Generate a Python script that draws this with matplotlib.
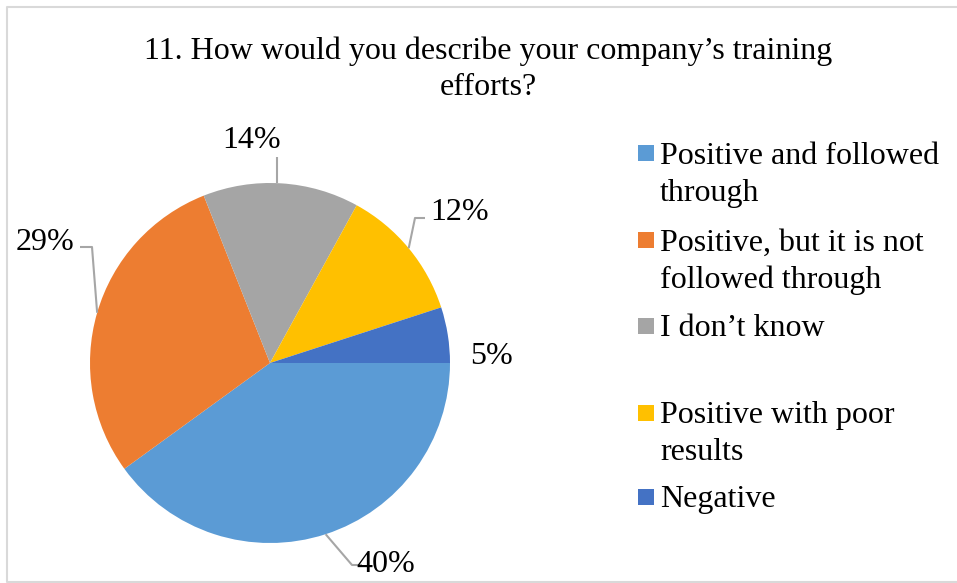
import matplotlib
matplotlib.use("Agg")
import matplotlib.pyplot as plt
from matplotlib.patches import Rectangle
from matplotlib.lines import Line2D
import numpy as np

# Survey data
title = "11. How would you describe your company\u2019s training\nefforts?"
categories = [
    "Positive and followed\nthrough",
    "Positive, but it is not\nfollowed through",
    "I don\u2019t know",
    "Positive with poor\nresults",
    "Negative",
]
shares = [40, 29, 14, 12, 5]
colors = ["#5B9BD5", "#ED7D31", "#A5A5A5", "#FFC000", "#4472C4"]

W, H = 957, 583
FS = 23
fig = plt.figure(figsize=(W / 100, H / 100), dpi=100)
plt.rcParams["font.family"] = ["Liberation Serif", "DejaVu Serif"]

# pixel helpers for the figure-level layout
def fx(px):
    return px / W

def fy(py):
    return 1 - py / H

# light outer frame (top, left and bottom edges; the right edge runs off the canvas)
frame_x = [fx(1100), fx(6.5), fx(6.5), fx(1100)]
frame_y = [fy(6.5), fy(6.5), fy(581.5), fy(581.5)]
fig.add_artist(Line2D(frame_x, frame_y, transform=fig.transFigure,
                      color="#D9D9D9", linewidth=1.5, zorder=0))

fig.text(fx(488), fy(69), title, ha="center", va="center", fontsize=FS,
         linespacing=1.3)

# pie axes: center at (270, 363) px, radius 180 px, spanning the full figure
cx, cy, R = 270, 363, 180
ax = fig.add_axes([0, 0, 1, 1])
wedges, _ = ax.pie(shares, colors=colors, startangle=0, counterclock=False,
                   radius=1.0, wedgeprops=dict(linewidth=0))
ax.set_xlim((0 - cx) / R, (W - cx) / R)
ax.set_ylim((cy - H) / R, cy / R)
ax.set_aspect("auto")
ax.axis("off")

def d(px, py):
    return ((px - cx) / R, (cy - py) / R)

# label text positions (px) and leader elbows (px)
label_pos = [(386, 565), (45, 243), (252, 140), (460, 213), (491, 356)]
leaders = [
    [(352, 565), (362, 565)],
    [(92, 247), (80, 247)],
    [(277, 157)],
    [(415, 218), (425, 218)],
    None,
]

for w, v, pos, ld in zip(wedges, shares, label_pos, leaders):
    mid = np.deg2rad((w.theta1 + w.theta2) / 2)
    ex, ey = np.cos(mid), np.sin(mid)
    if ld is not None:
        pts = [(ex, ey)] + [d(*p) for p in ld]
        if len(ld) == 1:
            pts[0] = (d(*ld[0])[0], ey)
        xs, ys = zip(*pts)
        ax.plot(xs, ys, color="#A6A6A6", linewidth=1.5, solid_capstyle="butt")
    tx, ty = d(*pos)
    ax.text(tx, ty, f"{v}%", ha="center", va="center", fontsize=FS)

# legend, laid out as evenly spaced entries
legend_rows = [153, 240, 326, 413, 497]
for lab, col, ry in zip(categories, colors, legend_rows):
    fig.patches.append(Rectangle((fx(638), fy(ry + 8)), fx(16), fy(ry - 8) - fy(ry + 8),
                                 transform=fig.transFigure, facecolor=col,
                                 edgecolor="none"))
    for i, line in enumerate(lab.split("\n")):
        fig.text(fx(660), fy(ry + 3 + 37 * i), line, ha="left", va="center",
                 fontsize=FS)

fig.savefig("out.png", dpi=100)
